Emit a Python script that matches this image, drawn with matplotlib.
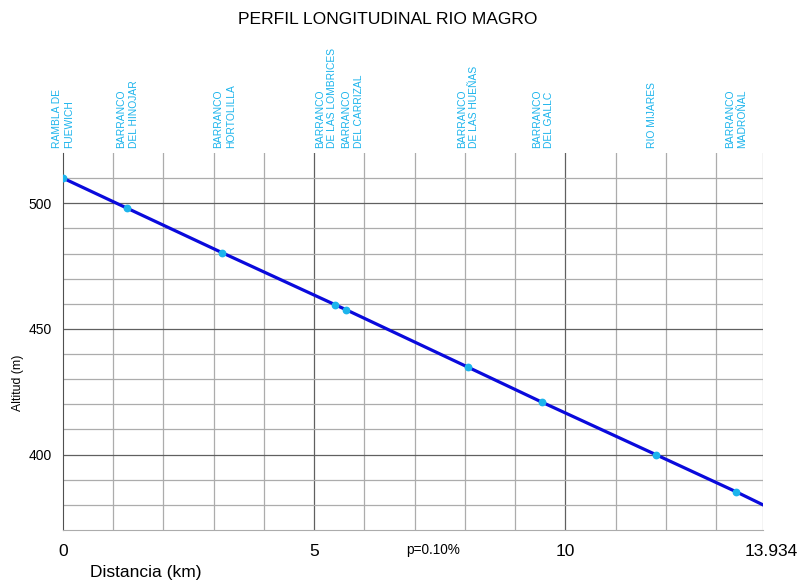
import matplotlib
matplotlib.use('Agg')
import matplotlib.pyplot as plt
import matplotlib.transforms as mtransforms

plt.rcParams['font.family'] = ['Liberation Sans', 'DejaVu Sans']

# Datos del perfil (km, m)
distancia = [0.0, 1.28, 3.16, 5.42, 5.64, 8.06, 9.54, 11.80, 13.40, 13.934]
altitud = [510.0, 498.0, 480.4, 459.6, 457.6, 434.8, 420.8, 400.0, 385.2, 380.0]

# Afluentes
afl_km = [0.0, 1.28, 3.16, 5.42, 5.64, 8.06, 9.54, 11.80, 13.40]
afl_alt = [510.0, 498.0, 480.4, 459.6, 457.6, 434.8, 420.8, 400.0, 385.2]
afl_nombre = ['RAMBLA DE\nFUEWICH', 'BARRANCO\nDEL HINOJAR', 'BARRANCO\nHORTOLILLA',
              'BARRANCO\nDE LAS LOMBRICES', 'BARRANCO\nDEL CARRIZAL',
              'BARRANCO\nDE LAS HUEÑAS', 'BARRANCO\nDEL GALLC', 'RIO MIJARES',
              'BARRANCO\nMADROÑAL']
afl_dx = [0, 0, 3, -9, 6, 0, 1, -4, 0]  # desplazamiento en px

xticks = [0, 5, 10, 13.934]
xtick_labels = ['0', '5', '10', '13.934']
yticks = [400, 450, 500]

fig = plt.figure(figsize=(7.97, 5.8), dpi=100)
ax = fig.add_axes([63 / 797, 1 - 530 / 580, 700 / 797, 377 / 580])
ax.set_xlim(0, 13.934)
ax.set_ylim(370, 520)

# Rejilla
for k in range(1, 14):
    c = '#606060' if k in (5, 10) else '#acacac'
    ax.axvline(k, color=c, lw=0.9, zorder=1)
ax.axvline(13.934, color='#acacac', lw=0.9, zorder=1)
for h in range(380, 520, 10):
    c = '#606060' if h in yticks else '#acacac'
    ax.axhline(h, color=c, lw=0.9, zorder=1)

for s in ['top', 'right']:
    ax.spines[s].set_visible(False)
ax.spines['left'].set_color('#505050')
ax.spines['bottom'].set_color('#acacac')

ax.plot(distancia, altitud, color='#0a0adc', lw=2.3, zorder=3)
ax.plot(afl_km, afl_alt, 'o', color='#1cb4ec', ms=4.6, zorder=4)

trans = mtransforms.blended_transform_factory(ax.transData, ax.transAxes)
for x, nombre, dx in zip(afl_km, afl_nombre, afl_dx):
    t = trans + mtransforms.ScaledTranslation(dx / 100, 5 / 100, fig.dpi_scale_trans)
    ax.text(x, 1.0, nombre, transform=t, rotation=90, ha='center', va='bottom',
            multialignment='left', fontsize=7.4, color='#1cb4ec', linespacing=1.3)

ax.set_xticks(xticks)
ax.set_xticklabels(xtick_labels, fontsize=12.5)
ax.set_yticks(yticks)
ax.set_yticklabels([str(v) for v in yticks], fontsize=10)
ax.tick_params(axis='both', length=0)
ax.tick_params(axis='x', pad=10)
ax.tick_params(axis='y', pad=8)
lab = ax.get_xticklabels()[-1]
lab.set_transform(lab.get_transform() + mtransforms.ScaledTranslation(0.08, 0, fig.dpi_scale_trans))

ax.text(7.37, 370, 'p=0.10%', ha='center', va='center', fontsize=9.8,
        transform=ax.transData + mtransforms.ScaledTranslation(0, -0.2, fig.dpi_scale_trans))

fig.text(146 / 797, 1 - 572 / 580, 'Distancia (km)', ha='center', va='center', fontsize=12.5)
fig.text(18 / 797, 1 - 383 / 580, 'Altitud (m)', ha='center', va='center', rotation=90, fontsize=8.8)
fig.text(388 / 797, 1 - 20 / 580, 'PERFIL LONGITUDINAL RIO MAGRO', ha='center', va='center', fontsize=12.6)

fig.savefig('out.png', dpi=100)
